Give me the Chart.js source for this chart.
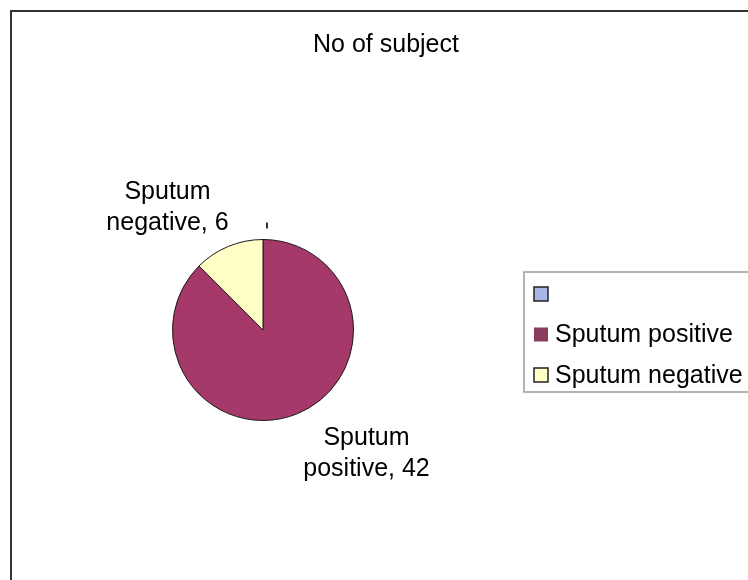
<!DOCTYPE html>
<html>
<head>
<meta charset="utf-8">
<script src="https://cdn.jsdelivr.net/npm/chart.js@4/dist/chart.umd.min.js"></script>
<style>
  body { margin: 0; background: #fff; }
  #c { display: block; }
</style>
</head>
<body>
<canvas id="c" width="748" height="580"></canvas>
<script>
// data
const chartTitle = "No of subject";
const categories = ["", "Sputum positive", "Sputum negative"];
const subjects = [0, 42, 6];
const sliceColors = ["#A9B7E6", "#A5396A", "#FFFFC6"];
const legendColors = ["#A9B7E6", "#8A3D5D", "#FFFFC6"];

const FONT = '"Liberation Sans", Arial, sans-serif';

// frame, title and legend box
const decor = {
  id: "decor",
  beforeDraw(chart) {
    const ctx = chart.ctx;
    ctx.save();
    ctx.fillStyle = "#fff";
    ctx.fillRect(0, 0, chart.width, chart.height);
    ctx.strokeStyle = "#333";
    ctx.lineWidth = 2;
    ctx.strokeRect(11, 11, 800, 640);
    ctx.fillStyle = "#000";
    ctx.font = "25px " + FONT;
    ctx.textAlign = "center";
    ctx.textBaseline = "middle";
    ctx.fillText(chartTitle, 386, 45);
    ctx.restore();
  },
  afterDraw(chart) {
    const ctx = chart.ctx;
    ctx.save();
    ctx.strokeStyle = "#9a9a9a";
    ctx.lineWidth = 1.5;
    ctx.strokeRect(524, 272, 300, 120);
    ctx.font = "25px " + FONT;
    ctx.textBaseline = "middle";
    ctx.textAlign = "left";
    categories.forEach((cat, i) => {
      const y = 294 + i * 40.5;
      ctx.fillStyle = legendColors[i];
      ctx.fillRect(534, y - 7, 14, 14);
      if (i !== 1) {
        ctx.strokeStyle = "#222";
        ctx.lineWidth = 1.5;
        ctx.strokeRect(534, y - 7, 14, 14);
      }
      ctx.fillStyle = "#000";
      ctx.fillText(cat, 555, y + 1);
    });
    ctx.restore();
  }
};

// slice labels outside the pie
const sliceLabels = {
  id: "sliceLabels",
  afterDatasetsDraw(chart) {
    const ctx = chart.ctx;
    const meta = chart.getDatasetMeta(0);
    ctx.save();
    ctx.font = "25px " + FONT;
    ctx.textAlign = "center";
    ctx.textBaseline = "middle";
    meta.data.forEach((arc, i) => {
      const p = arc.getProps(["x", "y", "startAngle", "endAngle", "outerRadius"], true);
      const mid = (p.startAngle + p.endAngle) / 2;
      const dx = Math.cos(mid), dy = Math.sin(mid);
      if (!subjects[i]) {
        // leader stub of the empty category
        ctx.strokeStyle = "#333";
        ctx.lineWidth = 2;
        ctx.beginPath();
        ctx.moveTo(p.x + 4 + dx * (p.outerRadius + 11), p.y + dy * (p.outerRadius + 11));
        ctx.lineTo(p.x + 4 + dx * (p.outerRadius + 17), p.y + dy * (p.outerRadius + 17));
        ctx.stroke();
        return;
      }
      const text = categories[i] + ", " + subjects[i];
      const cut = text.indexOf(" ");
      const lines = [text.slice(0, cut), text.slice(cut + 1)];
      const lx = p.x + 4 + dx * 260;
      const ly = p.y + dy * 133;
      ctx.fillStyle = "#000";
      ctx.fillText(lines[0], lx, ly - 15);
      ctx.fillText(lines[1], lx, ly + 16);
    });
    ctx.restore();
  }
};

new Chart(document.getElementById("c"), {
  type: "pie",
  data: {
    labels: categories,
    datasets: [{
      data: subjects,
      backgroundColor: sliceColors,
      borderColor: "#1a1a1a",
      borderWidth: 1
    }]
  },
  options: {
    responsive: false,
    animation: false,
    events: [],
    layout: { padding: { left: 172, right: 394, top: 239, bottom: 159 } },
    plugins: {
      legend: { display: false },
      tooltip: { enabled: false },
      title: { display: false }
    }
  },
  plugins: [decor, sliceLabels]
});
</script>
</body>
</html>
